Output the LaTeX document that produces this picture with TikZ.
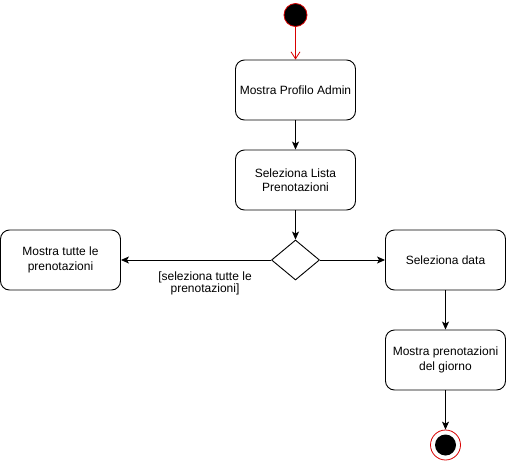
\documentclass[tikz,border=0pt]{standalone}
\usepackage{fontspec}
\setmainfont{Liberation Sans}
\usetikzlibrary{shapes.geometric,arrows.meta}
\begin{document}
\begin{tikzpicture}[x=1pt,y=-1pt,
  actbox/.style={draw=black,line width=0.9pt,rounded corners=9pt,minimum width=120pt,minimum height=60pt,align=center,font=\fontsize{12}{14.5}\selectfont,fill=white},
  arr/.style={draw=black,line width=0.9pt,-{Stealth[length=8pt,width=7pt,inset=2pt]}},
  redarr/.style={draw=red!85!black,line width=0.8pt,-{Straight Barb[length=7pt,width=9pt]}},
  dec/.style={draw=black,line width=0.9pt,diamond,minimum width=48pt,minimum height=40pt,inner sep=0pt,fill=white,shape aspect=1.2}
]
\useasboundingbox (0,0) rectangle (506,461);
\node[circle,fill=black,draw=red!85!black,line width=0.8pt,minimum size=23pt,inner sep=0pt] (start) at (295.5,15) {};
\node[actbox] (profilo) at (295.5,90) {Mostra Profilo Admin};
\node[actbox] (lista) at (295.5,180) {Seleziona Lista\\Prenotazioni};
\node[dec] (d) at (295.5,260) {};
\node[actbox] (tutte) at (60.5,260) {Mostra tutte le\\prenotazioni};
\node[actbox] (data) at (445.5,260) {Seleziona data};
\node[actbox] (giorno) at (445.5,360) {Mostra prenotazioni\\del giorno};
\node[circle,draw=red!85!black,fill=white,line width=0.8pt,minimum size=30pt,inner sep=0pt] (fine) at (445.5,445) {};
\node[circle,fill=black,minimum size=21pt,inner sep=0pt] (fineint) at (fine.center) {};
\node[align=center,font=\fontsize{12}{12}\selectfont] (lbl) at (205,283) {[seleziona tutte le\\prenotazioni]};

\draw[redarr] (start) -- (profilo);
\draw[arr] (profilo) -- (lista);
\draw[arr] (lista) -- (d);
\draw[arr] (d) -- (tutte);
\draw[arr] (d) -- (data);
\draw[arr] (data) -- (giorno);
\draw[arr] (giorno) -- (fine);
\end{tikzpicture}
\end{document}
